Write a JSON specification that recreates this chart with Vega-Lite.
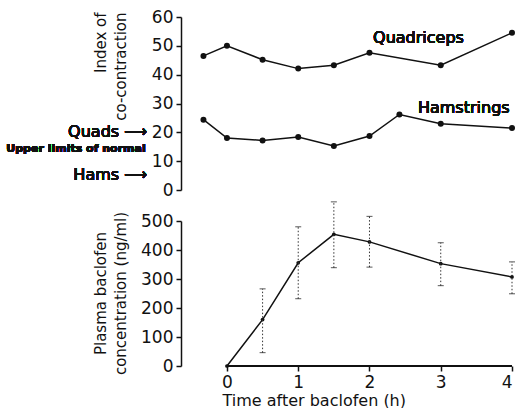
{
  "$schema": "https://vega.github.io/schema/vega-lite/v6.json",
  "padding": {"left": 6, "top": 8, "right": 2, "bottom": 0},
  "background": "white",
  "bounds": "flush",
  "spacing": 31,
  "config": {
    "view": {"stroke": null},
    "font": "DejaVu Sans",
    "axis": {
      "grid": false,
      "domainColor": "#111",
      "domainWidth": 1.5,
      "tickColor": "#111",
      "tickWidth": 1.5,
      "tickSize": 5,
      "labelColor": "#111",
      "labelFontSize": 17,
      "labelFont": "DejaVu Sans",
      "labelPadding": 3,
      "labelOverlap": false,
      "titleColor": "#111",
      "titleFont": "DejaVu Sans",
      "titleFontWeight": "normal",
      "titleFontSize": 15,
      "titleLineHeight": 20
    }
  },
  "resolve": {"scale": {"x": "independent", "y": "independent"}, "axis": {"x": "independent", "y": "independent"}},
  "vconcat": [
    {
      "width": 331,
      "height": 173,
      "data": {"values": [
        {"muscle": "Quadriceps", "t": -0.33, "v": 46.5},
        {"muscle": "Quadriceps", "t": 0, "v": 50},
        {"muscle": "Quadriceps", "t": 0.5, "v": 45.2},
        {"muscle": "Quadriceps", "t": 1, "v": 42.1},
        {"muscle": "Quadriceps", "t": 1.5, "v": 43.3},
        {"muscle": "Quadriceps", "t": 2, "v": 47.6},
        {"muscle": "Quadriceps", "t": 3, "v": 43.3},
        {"muscle": "Quadriceps", "t": 4, "v": 54.5},
        {"muscle": "Hamstrings", "t": -0.33, "v": 24.4},
        {"muscle": "Hamstrings", "t": 0, "v": 18},
        {"muscle": "Hamstrings", "t": 0.5, "v": 17.2},
        {"muscle": "Hamstrings", "t": 1, "v": 18.4},
        {"muscle": "Hamstrings", "t": 1.5, "v": 15.3},
        {"muscle": "Hamstrings", "t": 2, "v": 18.7},
        {"muscle": "Hamstrings", "t": 2.42, "v": 26.2},
        {"muscle": "Hamstrings", "t": 3, "v": 23},
        {"muscle": "Hamstrings", "t": 4, "v": 21.5}
      ]},
      "encoding": {
        "x": {"field": "t", "type": "quantitative", "scale": {"domain": [-0.645, 4], "nice": false, "zero": false}, "axis": null},
        "y": {"field": "v", "type": "quantitative", "scale": {"domain": [0, 60], "nice": false},
          "axis": {"values": [0, 10, 20, 30, 40, 50, 60], "title": ["Index of", "co-contraction"], "titleAngle": 270, "titleAlign": "right", "titleBaseline": "bottom", "titleX": -73, "titleY": -5}}
      },
      "layer": [
        {
          "mark": {"type": "line", "color": "#111", "strokeWidth": 1.5, "point": {"filled": true, "size": 36, "color": "#111"}},
          "encoding": {"detail": {"field": "muscle"}}
        },
        {
          "mark": {"type": "text", "align": "left", "baseline": "middle", "fontSize": 16, "fill": "#111", "fontWeight": "normal"},
          "encoding": {"x": {"datum": 2.05}, "y": {"datum": 52.7}, "text": {"value": "Quadriceps"}}
        },
        {
          "mark": {"type": "text", "align": "left", "baseline": "middle", "fontSize": 16, "fill": "#111", "fontWeight": "normal"},
          "encoding": {"x": {"datum": 2.68}, "y": {"datum": 28.4}, "text": {"value": "Hamstrings"}}
        },
        {
          "mark": {"type": "text", "align": "right", "baseline": "middle", "fontSize": 16, "fill": "#111", "fontWeight": "normal"},
          "encoding": {"x": {"datum": -1.12}, "y": {"datum": 20}, "text": {"value": "Quads ⟶"}}
        },
        {
          "mark": {"type": "text", "align": "right", "baseline": "middle", "fontSize": 11, "fontWeight": "bold", "fill": "#111"},
          "encoding": {"x": {"datum": -1.14}, "y": {"datum": 14.2}, "text": {"value": "Upper limits of normal"}}
        },
        {
          "mark": {"type": "text", "align": "right", "baseline": "middle", "fontSize": 16, "fill": "#111", "fontWeight": "normal"},
          "encoding": {"x": {"datum": -1.12}, "y": {"datum": 5.2}, "text": {"value": "Hams ⟶"}}
        }
      ]
    },
    {
      "width": 331,
      "height": 145,
      "data": {"values": [
        {"t": 0, "mean": 0, "lo": null, "hi": null},
        {"t": 0.5, "mean": 160, "lo": 46, "hi": 266},
        {"t": 1, "mean": 356, "lo": 232, "hi": 480},
        {"t": 1.5, "mean": 454, "lo": 339, "hi": 566},
        {"t": 2, "mean": 428, "lo": 341, "hi": 516},
        {"t": 3, "mean": 353, "lo": 277, "hi": 425},
        {"t": 4, "mean": 307, "lo": 249, "hi": 359}
      ]},
      "encoding": {
        "x": {"field": "t", "type": "quantitative", "scale": {"domain": [-0.645, 4], "nice": false, "zero": false},
          "axis": {"values": [0, 1, 2, 3, 4], "domain": false, "title": "Time after baclofen (h)", "titleFontSize": 16, "titleAnchor": "start", "titleAlign": "left", "titleX": 41, "titleY": 42, "titleBaseline": "bottom"}},
        "y": {"field": "mean", "type": "quantitative", "scale": {"domain": [0, 500], "nice": false},
          "axis": {"values": [0, 100, 200, 300, 400, 500], "labelOverlap": false, "title": ["Plasma baclofen", "concentration (ng/ml)"], "titleAngle": 270, "titleAlign": "center", "titleBaseline": "bottom", "titleX": -73, "titleY": 72}}
      },
      "layer": [
        {
          "mark": {"type": "line", "color": "#111", "strokeWidth": 1.5, "point": {"filled": true, "size": 14, "color": "#111"}}
        },
        {
          "mark": {"type": "rule", "color": "#111", "strokeWidth": 1.5},
          "encoding": {"x": {"datum": 0}, "x2": {"datum": 4}, "y": {"datum": 0}}
        },
        {
          "mark": {"type": "rule", "color": "#333", "strokeWidth": 1, "strokeDash": [1.5, 2]},
          "encoding": {
            "y": {"field": "lo", "type": "quantitative", "scale": {"domain": [0, 500], "nice": false},
              "axis": {"values": [0, 100, 200, 300, 400, 500], "labelOverlap": false, "title": ["Plasma baclofen", "concentration (ng/ml)"], "titleAngle": 270, "titleAlign": "center", "titleBaseline": "bottom", "titleX": -73, "titleY": 72}},
            "y2": {"field": "hi"}
          }
        },
        {
          "mark": {"type": "tick", "orient": "horizontal", "color": "#111", "size": 6, "thickness": 1},
          "encoding": {"y": {"field": "hi", "type": "quantitative", "scale": {"domain": [0, 500], "nice": false},
              "axis": {"values": [0, 100, 200, 300, 400, 500], "labelOverlap": false, "title": ["Plasma baclofen", "concentration (ng/ml)"], "titleAngle": 270, "titleAlign": "center", "titleBaseline": "bottom", "titleX": -73, "titleY": 72}}}
        },
        {
          "mark": {"type": "tick", "orient": "horizontal", "color": "#111", "size": 6, "thickness": 1},
          "encoding": {"y": {"field": "lo", "type": "quantitative", "scale": {"domain": [0, 500], "nice": false},
              "axis": {"values": [0, 100, 200, 300, 400, 500], "labelOverlap": false, "title": ["Plasma baclofen", "concentration (ng/ml)"], "titleAngle": 270, "titleAlign": "center", "titleBaseline": "bottom", "titleX": -73, "titleY": 72}}}
        }
      ]
    }
  ]
}
